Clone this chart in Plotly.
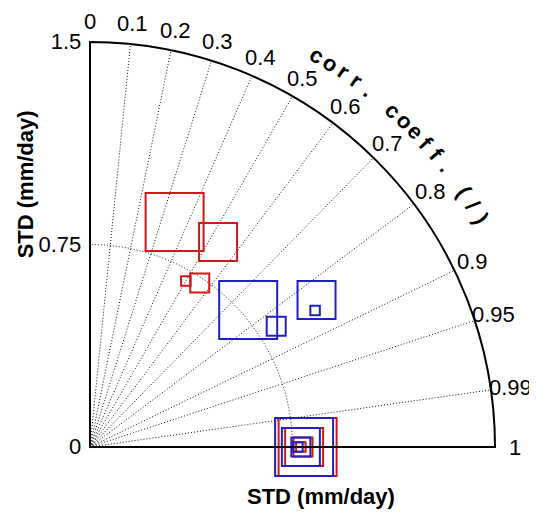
import numpy as np
import plotly.graph_objects as go

# ---- data ----
corr_ticks = [0, 0.1, 0.2, 0.3, 0.4, 0.5, 0.6, 0.7, 0.8, 0.9, 0.95, 0.99, 1]
corr_labels = ["0", "0.1", "0.2", "0.3", "0.4", "0.5", "0.6", "0.7", "0.8", "0.9", "0.95", "0.99", "1"]
std_ticks = [0, 0.75, 1.5]
std_labels = ["0", "0.75", "1.5"]

red_std = [0.89, 0.895, 0.731, 0.710]
red_corr = [0.352, 0.530, 0.556, 0.50]
blue_std = [0.775, 1.0, 0.822, 0.975]
blue_corr = [0.756, 0.839, 0.839, 0.855]
red_ref_std = [0.806, 0.793, 0.789, 0.781]
blue_ref_std = [0.793, 0.781, 0.781, 0.770]
ref_corr = [1, 1, 1, 1]

# ---- style ----
SIZES = [58, 38, 19, 9.5]
RED = "#d01818"
BLUE = "#2020c0"
R_MAX = 1.5
FONT = "Liberation Sans, Arial, sans-serif"
GRID = "#111111"

def theta(c):
    return np.degrees(np.arccos(np.array(c, dtype=float)))

fig = go.Figure()

# x-axis line (corr = 1 edge)
fig.add_trace(go.Scatterpolar(r=[0, R_MAX], theta=[0, 0], mode="lines",
                              line=dict(color="black", width=2),
                              hoverinfo="skip", showlegend=False, cliponaxis=False))

def add(std, corr, color):
    fig.add_trace(go.Scatterpolar(
        r=std, theta=theta(corr), mode="markers", cliponaxis=False, showlegend=False,
        marker=dict(symbol="square-open", size=SIZES, color=color, opacity=1,
                    line=dict(color=color, width=2))))

add(red_std, red_corr, RED)
add(blue_std, blue_corr, BLUE)
add(red_ref_std, ref_corr, RED)
add(blue_ref_std, ref_corr, BLUE)

fig.update_layout(
    width=537, height=512,
    margin=dict(l=82, r=50, t=34, b=73),
    paper_bgcolor="white", plot_bgcolor="white",
    font=dict(family=FONT, size=22, color="black"),
    polar=dict(
        sector=[0, 90],
        bgcolor="white",
        domain=dict(x=[0, 1], y=[0, 1]),
        radialaxis=dict(range=[0, R_MAX], angle=90, tickangle=90,
                        tickmode="array", tickvals=std_ticks, ticktext=std_labels,
                        side="counterclockwise",
                        showline=True, linecolor="black", linewidth=2,
                        ticks="", showgrid=True, gridcolor=GRID, griddash="1px,2px",
                        gridwidth=1.2, tickfont=dict(size=22, family=FONT)),
        angularaxis=dict(thetaunit="degrees", direction="counterclockwise", rotation=0,
                         tickmode="array", tickvals=list(theta(corr_ticks)),
                         ticktext=corr_labels, ticks="", showticklabels=False,
                         showline=True, linecolor="black", linewidth=2,
                         showgrid=True, gridcolor=GRID, griddash="1px,2px", gridwidth=1.2),
    ),
)

# correlation tick labels, just outside the arc (paper units: 1 = full radius)
for c, lab in zip(corr_ticks, corr_labels):
    a = np.radians(theta([c])[0])
    fig.add_annotation(text=lab, xref="paper", yref="paper",
                       x=1.05 * np.cos(a), y=1.05 * np.sin(a),
                       xanchor="center", yanchor="middle", showarrow=False,
                       font=dict(size=22, family=FONT))

# axis titles
fig.add_annotation(text="<b>STD (mm/day)</b>", xref="paper", yref="paper",
                   x=0.57, y=-0.121, xanchor="center", yanchor="middle",
                   showarrow=False, font=dict(size=22, family=FONT))
fig.add_annotation(text="<b>STD (mm/day)</b>", xref="paper", yref="paper",
                   x=-0.16, y=0.649, xanchor="center", yanchor="middle",
                   showarrow=False, textangle=-90, font=dict(size=22, family=FONT))

# curved correlation title
title = "corr. coeff. (/)"
a0, a1 = 59.9, 30.3
rad = 1.1185
angs = np.linspace(a0, a1, len(title))
for ch, a in zip(title, angs):
    if ch == " ":
        continue
    fig.add_annotation(text="<b>%s</b>" % ch, xref="paper", yref="paper",
                       x=rad * np.cos(np.radians(a)), y=rad * np.sin(np.radians(a)),
                       showarrow=False, textangle=90 - a,
                       font=dict(size=22, family=FONT), xanchor="center", yanchor="middle")

fig.write_html("out.html")
